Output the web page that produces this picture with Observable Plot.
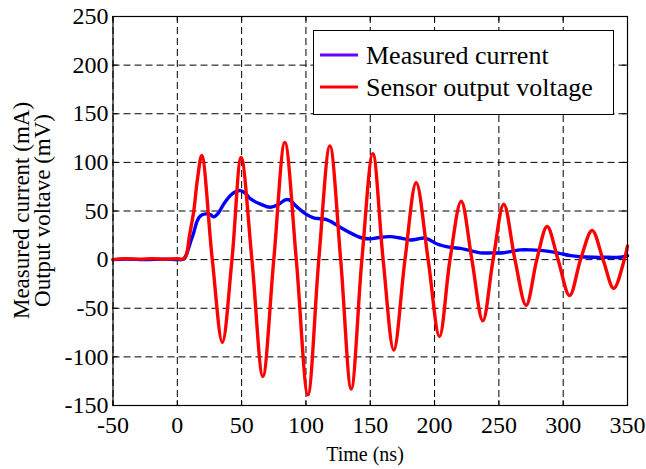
<!DOCTYPE html>
<html>
<head>
<meta charset="utf-8">
<script src="https://cdn.jsdelivr.net/npm/d3@7"></script>
<script src="https://cdn.jsdelivr.net/npm/@observablehq/plot@0.6"></script>
<style>
  html, body { margin: 0; padding: 0; background: #fff; }
  #chart { width: 646px; height: 469px; }
</style>
</head>
<body>
<div id="chart"></div>
<script>
// ---- data ----
const xTicks = [-50, 0, 50, 100, 150, 200, 250, 300, 350];
const yTicks = [-150, -100, -50, 0, 50, 100, 150, 200, 250];
const seriesNames = ["Measured current", "Sensor output voltage"];

const currentTime = [-50, -40, -25, -10, 0, 5, 7, 10, 12.8, 15.5, 18, 22, 26, 28.4, 32, 36, 42.7, 49, 53, 57, 64.7, 72.4, 78.9, 84, 87, 93.2, 99.7, 106, 111, 116.5, 121, 126.9, 137.2, 143, 150.2, 157, 165.7, 172, 181.3, 186, 191.6, 196, 202, 212.4, 220, 225.4, 235.7, 245, 253.8, 260, 266.8, 275, 282, 290.1, 297, 305.7, 313, 323.8, 335, 344.5, 350];
const currentValues = [0, 0.5, 0, 0.5, 0, 0.5, 5, 17, 28, 40, 45, 47, 46, 44, 48, 57, 67.5, 71, 68, 62.4, 57, 53.8, 57, 61.5, 61.4, 54, 47, 43, 42, 41, 38, 33, 25.7, 22.5, 21.3, 22.8, 23.6, 22.5, 20.2, 21, 22.3, 20.5, 16.1, 12.6, 11.5, 10, 7, 6.9, 7, 8.5, 10, 10, 9.5, 8.2, 6.5, 4.1, 3, 2.4, 2.4, 2.4, 4];

const voltageTime = [-50, -40, -30, -20, -10, 0, 4, 6.5, 9.5, 12.8, 15.5, 19, 27.2, 35, 42.5, 49.6, 58, 66.5, 75, 83.6, 92.5, 101.5, 110, 118.6, 127, 135.2, 143.5, 152, 160, 168.3, 177, 185.7, 195, 203.8, 212, 220.7, 229, 237.5, 245.5, 253.8, 262.5, 271.2, 279.5, 287.5, 296, 305, 313.5, 322.5, 331, 339.3, 347.5, 350];
const voltageValues = [0, 1, 0.5, 1, 0.5, 1, 0.5, 3, 25, 50, 81, 107, 0, -85, 0, 105, 0, -120, 0, 120.6, 0, -139, 0, 117, 0, -133, 0, 109, 0, -93, 0, 79, 0, -79, 0, 60, 0, -63, 0, 57, 0, -47, 0, 34, 0, -37, 0, 30, 0, -29.5, 0, 14];

// ---- layout ----
const W = 646, H = 469;
const mL = 112.5, mT = 16, mR = 19, mB = 64;
const pw = W - mL - mR, ph = H - mT - mB;
const font = "'Liberation Serif', 'Times New Roman', serif";
const colors = ["#0000ff", "#ff0000"];
const legendColors = ["#6a00ff", "#ff0000"];

const current = currentTime.map((t, i) => ({t, v: currentValues[i]}));
const voltage = voltageTime.map((t, i) => ({t, v: voltageValues[i]}));
const fmt = d => String(d);

const plot = Plot.plot({
  width: W, height: H,
  marginLeft: mL, marginTop: mT, marginRight: mR, marginBottom: mB,
  style: {fontFamily: font, fontSize: "24px", color: "black", background: "white", overflow: "visible"},
  x: {domain: [-50, 350], label: null},
  y: {domain: [-150, 250], label: null},
  marks: [
    Plot.ruleX(xTicks, {x: d => d, stroke: "black", strokeWidth: 1, strokeDasharray: "7,4"}),
    Plot.ruleY(yTicks, {y: d => d, stroke: "black", strokeWidth: 1, strokeDasharray: "7,4"}),
    // inward tick marks on all four sides
    Plot.ruleX(xTicks, {x: d => d, stroke: "black", insetTop: ph - 5}),
    Plot.ruleX(xTicks, {x: d => d, stroke: "black", insetBottom: ph - 5}),
    Plot.ruleY(yTicks, {y: d => d, stroke: "black", insetRight: pw - 5}),
    Plot.ruleY(yTicks, {y: d => d, stroke: "black", insetLeft: pw - 5}),
    Plot.line(current, {x: "t", y: "v", stroke: colors[0], strokeWidth: 3.4, curve: "catmull-rom"}),
    Plot.line(voltage, {x: "t", y: "v", stroke: colors[1], strokeWidth: 3.4, curve: "catmull-rom"}),
    Plot.frame({stroke: "black", strokeWidth: 1.2}),
    Plot.axisX(xTicks, {anchor: "bottom", tickSize: 0, tickPadding: 10, tickFormat: fmt, label: null, fontSize: 24}),
    Plot.axisY(yTicks, {anchor: "left", tickSize: 0, tickPadding: 4.5, tickFormat: fmt, label: null, fontSize: 24})
  ]
});

const svg = d3.select(plot);
svg.attr("font-family", font);

// x axis title
svg.append("text")
  .attr("x", 365).attr("y", 461)
  .attr("text-anchor", "middle")
  .style("font-size", "20px").attr("fill", "black")
  .text("Time (ns)");

// y axis title (two lines)
const yl = svg.append("g").attr("transform", `translate(29,${mT + ph / 2}) rotate(-90)`)
  .style("font-size", "23px").attr("fill", "black");
yl.append("text").attr("text-anchor", "middle").attr("y", 0).text("Measured current (mA)");
yl.append("text").attr("text-anchor", "middle").attr("y", 21).text("Output voltave (mV)");

// legend
const lg = svg.append("g");
lg.append("rect").attr("x", 313.5).attr("y", 30.5).attr("width", 300).attr("height", 84)
  .attr("fill", "white").attr("stroke", "black").attr("stroke-width", 1);
seriesNames.forEach((name, i) => {
  const cy = 55 + i * 32;
  lg.append("line").attr("x1", 320).attr("x2", 358).attr("y1", cy).attr("y2", cy)
    .attr("stroke", legendColors[i]).attr("stroke-width", 3);
  lg.append("text").attr("x", 366).attr("y", cy + 9)
    .attr("text-anchor", "start")
    .style("font-size", "26px").attr("fill", "black")
    .text(name);
});

// force the serif face on every text element
svg.selectAll("text").style("font-family", font);

document.getElementById("chart").appendChild(plot);
</script>
</body>
</html>
